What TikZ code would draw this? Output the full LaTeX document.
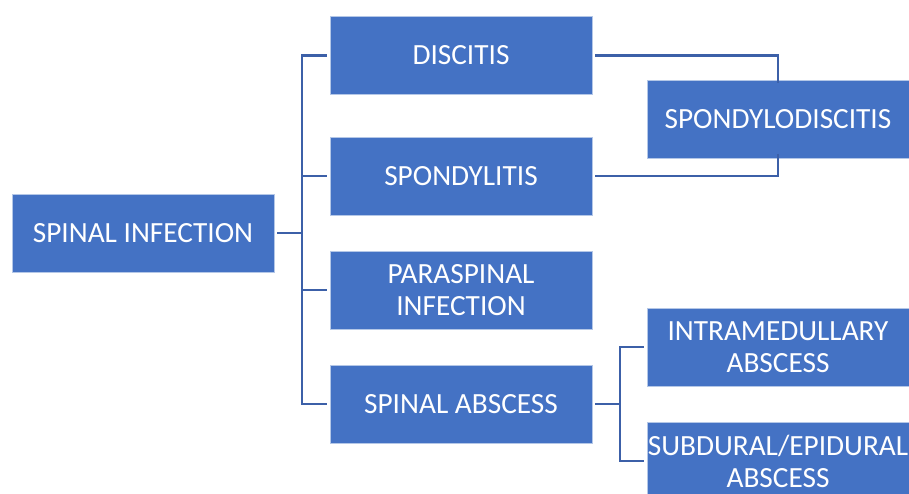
\documentclass[tikz,border=0pt]{standalone}
\usepackage{fontspec}
\setmainfont{Carlito}
\usepackage{xcolor}
\definecolor{boxblue}{RGB}{68,114,196}
\definecolor{linkblue}{RGB}{60,96,168}

\begin{document}
\begin{tikzpicture}[
    x=1pt, y=-1pt,
    box/.style={rectangle, fill=boxblue, draw=boxblue!40, line width=0.8pt,
        text=white, align=center, inner sep=0pt,
        minimum width=262pt, minimum height=78pt,
        font=\fontsize{29.3}{32}\selectfont},
    link/.style={draw=linkblue, line width=2.4pt}
]
    \useasboundingbox (0,0) rectangle (909,494);

    % Boxes
    \node[box] (infect)      at (143, 233)   {SPINAL INFECTION};
    \node[box] (discitis)    at (461, 55.5)  {DISCITIS};
    \node[box] (spondylitis) at (461, 176)   {SPONDYLITIS};
    \node[box] (paraspinal)  at (461, 290)   {PARASPINAL\\INFECTION};
    \node[box] (abscess)     at (461, 404)   {SPINAL ABSCESS};
    \node[box] (spondylo)    at (778, 119.5) {SPONDYLODISCITIS};
    \node[box] (intramed)    at (778, 347)   {INTRAMEDULLARY\\ABSCESS};
    \node[box] (subdural)    at (778, 461)   {SUBDURAL/EPIDURAL\\ABSCESS};

    % Bus coordinates
    \coordinate (bus1) at (302, 233);
    \coordinate (bus2) at (620, 404);

    % First level
    \draw[link] ([xshift=3pt]infect.east) -- (bus1);
    \draw[link] (bus1) |- ([xshift=-3pt]discitis.west);
    \draw[link] (bus1) |- ([xshift=-3pt]spondylitis.west);
    \draw[link] (bus1) |- ([xshift=-3pt]paraspinal.west);
    \draw[link] (bus1) |- ([xshift=-3pt]abscess.west);

    % Discitis + spondylitis merge
    \draw[link] ([xshift=3pt]discitis.east) -| ([yshift=-3pt]spondylo.north);
    \draw[link] ([xshift=3pt]spondylitis.east) -| ([yshift=5pt]spondylo.south);

    % Abscess branches
    \draw[link] ([xshift=3pt]abscess.east) -- (bus2);
    \draw[link] (bus2) |- ([xshift=-3pt]intramed.west);
    \draw[link] (bus2) |- ([xshift=-3pt]subdural.west);

\end{tikzpicture}
\end{document}
